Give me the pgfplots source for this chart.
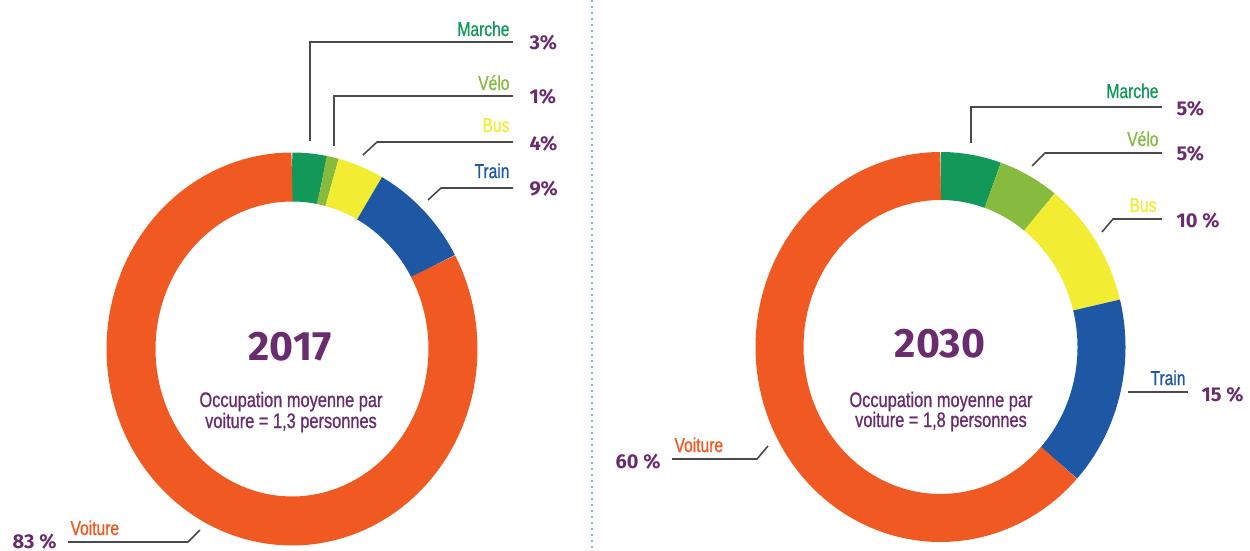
\documentclass[border=0pt]{standalone}
\usepackage{fontspec}
\setmainfont{Liberation Sans}
\newfontfamily\cond[FakeStretch=0.78, FakeBold=0.9]{Liberation Sans}
\newfontfamily\numf{Fira Sans}
\usepackage{pgfplots}
\pgfplotsset{compat=1.18}

\definecolor{cVoiture}{HTML}{F05A22}
\definecolor{cMarche}{HTML}{12995A}
\definecolor{cVelo}{HTML}{86BB40}
\definecolor{cBus}{HTML}{F2EC32}
\definecolor{cTrain}{HTML}{1E58A5}
\definecolor{cPurple}{HTML}{6A2C6E}
\definecolor{cLead}{HTML}{4A4A4A}
\definecolor{cDots}{HTML}{6EC3DC}

\tikzset{
    ringA/.style={line width=49pt, line cap=butt},
    ringB/.style={line width=48pt, line cap=butt},
    lbl/.style={font=\cond\fontsize{20}{20}\selectfont, anchor=base east},
    pct/.style={font=\numf\bfseries\fontsize{20}{20}\selectfont, text=cPurple, anchor=base west},
    sub/.style={anchor=base, text=cPurple, font=\cond\fontsize{21}{21}\selectfont},
    year/.style={anchor=base, text=cPurple, font=\numf\bfseries\fontsize{41}{41}\selectfont},
    lead/.style={cLead, line width=1.6pt},
}

% parts of each donut, in %, clockwise from the top
% 2017: Marche 3, Velo 1, Bus 4, Train 9, Voiture 83 (total 100)
% 2030: Marche 5, Velo 5, Bus 10, Train 15, Voiture 60 (total 95, drawn as a full ring)

\begin{document}
\begin{tikzpicture}
\begin{axis}[
    width=1250pt, height=551pt, scale only axis,
    xmin=0, xmax=1250, ymin=0, ymax=551, y dir=reverse,
    hide axis, clip=false,
    no markers, samples=120,
]
% ---- 2017 ----
\def\k{3.6}
\addplot[cMarche,  ringA, domain={0*\k}:{3*\k}]   ({292+161*sin(x)},{349-172*cos(x)});
\addplot[cVelo,    ringA, domain={3*\k}:{4*\k}]   ({292+161*sin(x)},{349-172*cos(x)});
\addplot[cBus,     ringA, domain={4*\k}:{8*\k}]   ({292+161*sin(x)},{349-172*cos(x)});
\addplot[cTrain,   ringA, domain={8*\k}:{17*\k}]  ({292+161*sin(x)},{349-172*cos(x)});
\addplot[cVoiture, ringA, domain={17*\k}:{100*\k}]({292+161*sin(x)},{349-172*cos(x)});

% ---- 2030 ----
\def\kk{3.78947}
\addplot[cMarche,  ringB, domain={0*\kk}:{5*\kk}]   ({940.5+161*sin(x)},{347-171*cos(x)});
\addplot[cVelo,    ringB, domain={5*\kk}:{10*\kk}]  ({940.5+161*sin(x)},{347-171*cos(x)});
\addplot[cBus,     ringB, domain={10*\kk}:{20*\kk}] ({940.5+161*sin(x)},{347-171*cos(x)});
\addplot[cTrain,   ringB, domain={20*\kk}:{35*\kk}] ({940.5+161*sin(x)},{347-171*cos(x)});
\addplot[cVoiture, ringB, domain={35*\kk}:{95*\kk}] ({940.5+161*sin(x)},{347-171*cos(x)});

% separator
\draw[cDots, line width=1.6pt, dash pattern=on 1.6pt off 4.4pt] (axis cs:592,0) -- (axis cs:592,551);

% ---- centre texts ----
\node[year] at (axis cs:290,360) {2017};
\node[sub] at (axis cs:291,407) {Occupation moyenne par};
\node[sub] at (axis cs:291,428) {voiture = 1,3 personnes};
\node[year] at (axis cs:940,357) {2030};
\node[sub] at (axis cs:941,407) {Occupation moyenne par};
\node[sub] at (axis cs:941,427) {voiture = 1,8 personnes};

% ---- 2017 labels ----
\draw[lead] (axis cs:310,141) -- (axis cs:310,42) -- (axis cs:513,42);
\node[lbl, text=cMarche] at (axis cs:513,36) {Marche};
\node[pct] at (axis cs:526,50) {3\%};
\draw[lead] (axis cs:334,146) -- (axis cs:334,96) -- (axis cs:513,96);
\node[lbl, text=cVelo] at (axis cs:513,90) {Vélo};
\node[pct] at (axis cs:526,103) {1\%};
\draw[lead] (axis cs:363,155) -- (axis cs:377,142) -- (axis cs:513,142);
\node[lbl, text=cBus] at (axis cs:513,132) {Bus};
\node[pct] at (axis cs:526,150) {4\%};
\draw[lead] (axis cs:428,200) -- (axis cs:441,188) -- (axis cs:513,188);
\node[lbl, text=cTrain] at (axis cs:513,178) {Train};
\node[pct] at (axis cs:526,195) {9\%};
\draw[lead] (axis cs:68,542) -- (axis cs:188,542) -- (axis cs:200,530);
\node[lbl, text=cVoiture, anchor=base west] at (axis cs:67,535) {Voiture};
\node[pct, anchor=base east] at (axis cs:60,548) {83 \%};

% ---- 2030 labels ----
\draw[lead] (axis cs:971,143) -- (axis cs:971,107) -- (axis cs:1162,107);
\node[lbl, text=cMarche] at (axis cs:1162,98) {Marche};
\node[pct] at (axis cs:1173,115) {5\%};
\draw[lead] (axis cs:1032,166) -- (axis cs:1045,153) -- (axis cs:1162,153);
\node[lbl, text=cVelo] at (axis cs:1162,146) {Vélo};
\node[pct] at (axis cs:1173,160) {5\%};
\draw[lead] (axis cs:1102,232) -- (axis cs:1113,219) -- (axis cs:1162,219);
\node[lbl, text=cBus] at (axis cs:1160,212) {Bus};
\node[pct] at (axis cs:1173,227) {10 \%};
\draw[lead] (axis cs:1128,392) -- (axis cs:1188,392);
\node[lbl, text=cTrain] at (axis cs:1189,385) {Train};
\node[pct] at (axis cs:1198,401) {15 \%};
\draw[lead] (axis cs:672,459) -- (axis cs:757,459) -- (axis cs:768,446);
\node[lbl, text=cVoiture, anchor=base west] at (axis cs:671,452) {Voiture};
\node[pct, anchor=base east] at (axis cs:664,468) {60 \%};
\end{axis}
\pgfresetboundingbox
\path (current axis.south west) rectangle (current axis.north east);
\end{tikzpicture}
\end{document}
